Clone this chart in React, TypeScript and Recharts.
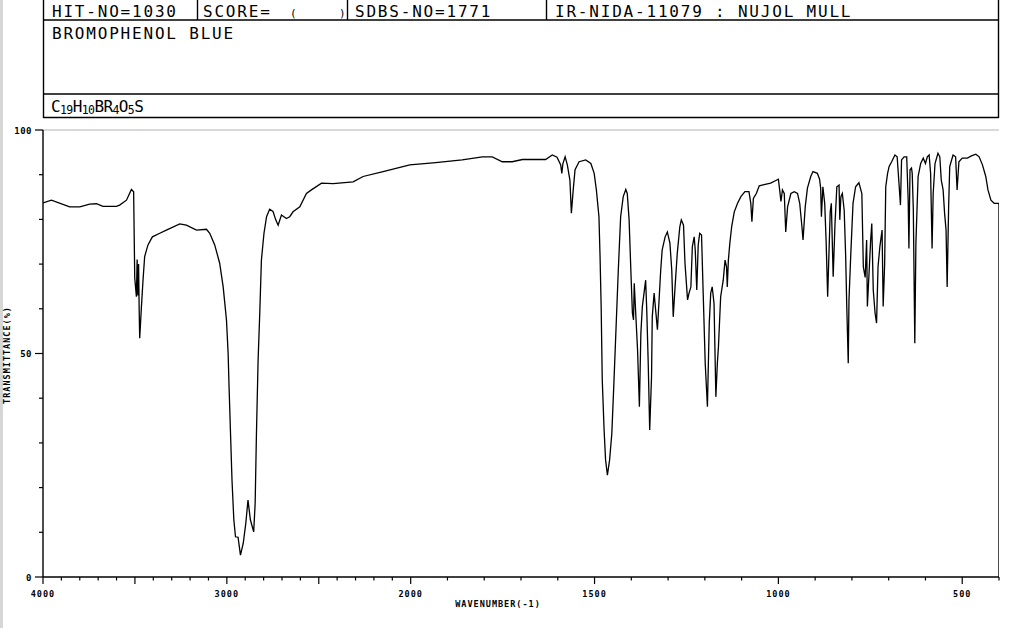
import React from 'react';
import { LineChart, Line, XAxis, YAxis, ReferenceLine } from 'recharts';

// ---------- data ----------
const wavenumbers: number[] = [
  4000, 3954, 3855, 3800, 3746, 3709, 3674, 3601, 3583, 3546, 3519, 3507, 3501, 3492, 3488, 3484, 3480, 3477, 3474,
  3465, 3456, 3447, 3429, 3405, 3365, 3329, 3256, 3220, 3165, 3111, 3093, 3066, 3039, 3020, 3002, 2993, 2988, 2980,
  2972, 2962, 2953, 2939, 2926, 2911, 2897, 2885, 2872, 2854, 2846, 2839, 2830, 2821, 2812, 2798, 2784, 2767, 2749,
  2734, 2721, 2703, 2676, 2658, 2640, 2603, 2567, 2540, 2485, 2422, 2313, 2259, 2150, 2005,
  1932, 1860, 1805, 1778, 1751, 1724, 1696, 1633, 1615, 1602, 1592, 1589, 1586, 1580, 1574, 1567, 1563, 1558, 1553,
  1542, 1524, 1510, 1501, 1495, 1488, 1485, 1482, 1479, 1474, 1470, 1465, 1459, 1453, 1447, 1441, 1435, 1429, 1422,
  1415, 1411, 1406, 1401, 1397, 1394, 1392, 1388, 1383, 1378, 1374, 1370, 1361, 1358, 1354, 1350, 1345, 1343, 1338,
  1333, 1329, 1325, 1320, 1316, 1308, 1302, 1295, 1290, 1286, 1281, 1275, 1268, 1264, 1258, 1254, 1247, 1243, 1238,
  1234, 1229, 1226, 1222, 1218, 1214, 1209, 1205, 1199, 1193, 1188, 1184, 1180, 1175, 1170, 1166, 1163, 1157, 1150,
  1145, 1141, 1139, 1136, 1132, 1127, 1120, 1111, 1102, 1091, 1080, 1075, 1072, 1068, 1060, 1052, 1039, 1021, 1007,
  1000, 996, 993, 989, 984, 980, 975, 966, 957, 948, 942, 936, 933, 927, 921, 912, 906, 894, 888, 885, 883, 879, 874,
  870, 866, 863, 859, 856, 854, 851, 846, 841, 835, 833, 830, 826, 821, 817, 814, 810, 808, 803, 797, 790, 781, 773,
  769, 764, 760, 758, 753, 749, 746, 742, 737, 733, 729, 724, 718, 715, 711, 708, 703, 699, 692, 683, 677, 672, 668,
  665, 658, 651, 647, 645, 642, 638, 636, 633, 629, 626, 620, 613, 606, 600, 595, 590, 586, 582, 579, 574, 566, 561,
  557, 552, 548, 544, 541, 537, 534, 525, 518, 514, 509, 500, 486, 475, 463, 454, 445, 436, 430, 422, 413, 404, 400,
];

const transmittance: number[] = [
  83.7, 84.3, 82.8, 82.8, 83.4, 83.5, 82.9, 82.9, 83.2, 84.3, 86.7, 86.2, 66.9, 62.7, 71.0, 63.0, 70.0, 60.0, 53.4,
  60.2, 66.4, 71.7, 74.3, 76.1, 76.9, 77.6, 79.0, 78.7, 77.6, 77.8, 76.9, 74.3, 70.2, 64.9, 57.5, 50.0, 42.6, 32.1,
  21.7, 12.8, 9.0, 8.9, 4.9, 7.5, 12.0, 17.2, 12.8, 10.1, 16.5, 32.1, 48.5, 59.0, 70.9, 76.9, 80.6, 82.3, 81.8,
  79.9, 78.7, 81.0, 80.2, 80.6, 81.7, 82.8, 85.8, 86.6, 88.1, 88.0, 88.4, 89.6, 90.7, 92.2,
  92.7, 93.3, 94.0, 94.0, 92.9, 92.9, 93.4, 93.4, 94.4, 93.9, 92.2, 90.3, 92.5, 94.0, 92.2, 88.8, 81.4, 86.6, 91.1,
  92.9, 93.3, 92.5, 90.3, 86.6, 80.6, 71.7, 60.5, 44.1, 32.9, 26.2, 22.8, 26.2, 32.1, 44.1, 56.8, 69.4, 80.6, 85.1,
  86.7, 85.8, 79.9, 68.0, 59.0, 57.5, 65.7, 59.0, 50.8, 38.1, 54.5, 60.5, 66.4, 59.7, 47.8, 32.9, 44.8, 58.2, 63.5,
  59.0, 55.3, 61.2, 68.7, 73.2, 76.1, 77.2, 74.7, 68.7, 58.2, 64.9, 72.4, 78.4, 79.9, 78.7, 70.2, 62.0, 63.5, 64.9,
  73.9, 76.1, 73.0, 64.2, 74.3, 76.9, 76.5, 64.9, 47.8, 38.1, 56.8, 63.5, 64.9, 61.2, 40.3, 47.8, 51.5, 62.7, 66.4,
  70.9, 69.4, 64.9, 70.9, 74.7, 78.4, 81.7, 83.6, 85.1, 86.2, 86.2, 83.6, 79.5, 84.7, 85.8, 87.5, 87.8, 88.1, 88.7,
  89.0, 86.2, 84.0, 86.6, 85.8, 77.2, 82.8, 85.8, 86.2, 85.8, 83.6, 78.4, 75.4, 82.8, 87.0, 89.6, 90.7, 90.3, 89.0, 87.0, 80.6, 87.3, 83.6,
  74.7, 62.7, 70.9, 81.7, 83.6, 76.9, 67.2, 79.1, 87.3, 87.7, 79.9, 85.1, 85.8, 82.0, 71.7, 60.5, 47.8, 62.0, 72.4, 83.6, 87.3, 88.2, 85.8,
  69.4, 67.0, 75.4, 60.5, 68.7, 75.4, 79.1, 64.2, 59.0, 56.8, 69.4, 73.9, 77.6, 60.5, 70.0, 87.3, 90.3, 91.8, 92.9, 94.4, 94.0, 88.1, 83.2,
  93.3, 94.0, 94.0, 84.3, 73.5, 91.1, 91.5, 90.3, 82.1, 52.3, 74.7, 89.6, 92.5, 93.7, 92.5, 94.0, 94.4, 90.3, 73.5, 85.8, 92.5, 94.8, 94.0,
  88.8, 86.6, 81.4, 77.6, 64.9, 82.8, 91.8, 94.4, 94.0, 86.6, 92.9, 93.7, 93.7, 94.2, 94.6, 94.0, 92.2, 89.6, 86.6, 84.3, 83.6, 83.6, 83.6,
];

const xTickWavenumbers: number[] = [
  4000, 3900, 3800, 3700, 3600, 3500, 3400, 3300, 3200, 3100, 3000, 2900, 2800, 2700, 2600, 2500, 2400, 2300, 2200,
  2100, 2000, 1900, 1800, 1700, 1600, 1500, 1400, 1300, 1200, 1100, 1000, 900, 800, 700, 600, 500, 400,
];
const xLabelWavenumbers: number[] = [4000, 3000, 2000, 1500, 1000, 500];
const xMajorWavenumbers: number[] = [4000, 3500, 3000, 2500, 2000, 1500, 1000, 500];
const yTicks: number[] = [0, 10, 20, 30, 40, 50, 60, 70, 80, 90, 100];
const yLabels: number[] = [0, 50, 100];

const headerRow1 = {
  hit: 'HIT-NO=1030',
  score: 'SCORE=',
  sdbs: 'SDBS-NO=1771',
  method: 'IR-NIDA-11079 : NUJOL MULL',
};
const compoundName = 'BROMOPHENOL BLUE';
const formulaParts: { t: string; sub: boolean }[] = [
  { t: 'C', sub: false }, { t: '19', sub: true }, { t: 'H', sub: false }, { t: '10', sub: true },
  { t: 'BR', sub: false }, { t: '4', sub: true }, { t: 'O', sub: false }, { t: '5', sub: true }, { t: 'S', sub: false },
];
const xTitle = 'WAVENUMBER(-1)';
const yTitle = 'TRANSMITTANCE(%)';

// ---------- scale: 4000-2000 at 1x, 2000-400 at 2x ----------
const toPos = (w: number) => (w >= 2000 ? 4000 - w : 2000 + 2 * (2000 - w));
const fromPos = (p: number) => (p <= 2000 ? 4000 - p : 2000 - (p - 2000) / 2);

const data = wavenumbers.map((w, i) => ({ pos: toPos(w), t: transmittance[i] }));
const lastW = wavenumbers[wavenumbers.length - 1];
const lastT = transmittance[transmittance.length - 1];
// closing stroke of the plotter pen: from the last point straight down to the baseline
const edgeData = [
  { pos: toPos(lastW), e: lastT },
  { pos: toPos(lastW), e: 0 },
];

const FONT = '"DejaVu Sans Mono", monospace';

const XTick = (props: any) => {
  const { x, y, payload } = props;
  const w = Math.round(fromPos(payload.value));
  const major = xMajorWavenumbers.includes(w);
  const label = xLabelWavenumbers.includes(w);
  return (
    <g>
      <line x1={x} y1={y} x2={x} y2={y + (major ? 7 : 3.5)} stroke="#000" strokeWidth={1.2} />
      {label && (
        <text x={x} y={y + 19.5} textAnchor="middle" fontFamily={FONT} fontSize={8.5} fontWeight="bold" letterSpacing={1} fill="#000">
          {w}
        </text>
      )}
    </g>
  );
};

const YTick = (props: any) => {
  const { x, y, payload } = props;
  const v = payload.value;
  const label = yLabels.includes(v);
  return (
    <g>
      <line x1={x} y1={y} x2={x - (label ? 8 : 4)} y2={y} stroke="#000" strokeWidth={1.2} />
      {label && (
        <text x={x - 11} y={y + 3.5} textAnchor="end" fontFamily={FONT} fontSize={9} fontWeight="bold" letterSpacing={0.5} fill="#000">
          {v}
        </text>
      )}
    </g>
  );
};

const Header = () => (
  <svg width={1019} height={628} style={{ position: 'absolute', left: 0, top: 0, pointerEvents: 'none' }}>
    <g stroke="#000" strokeWidth={1.4} fill="none">
      <line x1={43.5} y1={0} x2={43.5} y2={118} />
      <line x1={998.5} y1={0} x2={998.5} y2={118} />
      <line x1={43.5} y1={20} x2={998.5} y2={20} />
      <line x1={43.5} y1={94} x2={998.5} y2={94} />
      <line x1={43.5} y1={117.5} x2={998.5} y2={117.5} />
      <line x1={197.5} y1={0} x2={197.5} y2={20} />
      <line x1={347.5} y1={0} x2={347.5} y2={20} />
      <line x1={546.5} y1={0} x2={546.5} y2={20} />
    </g>
    <g fontFamily={FONT} fontSize={16} letterSpacing={1.8} fill="#000">
      <text x={52} y={16.5}>{headerRow1.hit}</text>
      <text x={203} y={16.5}>{headerRow1.score}</text>
      <text x={290} y={16.5} fontSize={11}>(</text>
      <text x={339} y={16.5} fontSize={11}>)</text>
      <text x={355} y={16.5}>{headerRow1.sdbs}</text>
      <text x={555} y={16.5}>{headerRow1.method}</text>
      <text x={52} y={39}>{compoundName}</text>
      <text x={51} y={111.5} letterSpacing={-0.6}>
        {formulaParts.map((p, i) => {
          const prevSub = i > 0 && formulaParts[i - 1].sub;
          const dy = p.sub ? 2 : prevSub ? -2 : 0;
          return (
            <tspan key={i} fontSize={p.sub ? 11.5 : 16} dy={dy}>
              {p.t}
            </tspan>
          );
        })}
      </text>
    </g>
    <text x={498} y={607} textAnchor="middle" fontFamily={FONT} fontSize={8.5} fontWeight="bold" letterSpacing={1} fill="#000">
      {xTitle}
    </text>
    <text
      x={10}
      y={355}
      transform="rotate(-90 10 355)"
      textAnchor="middle"
      fontFamily={FONT}
      fontSize={8.5}
      fontWeight="bold"
      letterSpacing={1}
      fill="#000"
    >
      {yTitle}
    </text>
  </svg>
);

export default function App() {
  return (
    <div style={{ position: 'absolute', left: 0, top: 0, width: 1019, height: 628, background: '#fff' }}>
      <div style={{ position: 'absolute', left: 0, top: 0, width: 3, height: 628, background: '#d6d6d6' }} />
      <div style={{ position: 'absolute', left: 0, top: 0 }}>
        <LineChart width={1019} height={628} data={data} margin={{ top: 130, right: 20, bottom: 0, left: 0 }}>
          <XAxis
            dataKey="pos"
            type="number"
            domain={[0, 5200]}
            ticks={xTickWavenumbers.map(toPos)}
            interval={0}
            height={51}
            tickSize={0}
            tickMargin={0}
            tickLine={false}
            axisLine={{ stroke: '#000', strokeWidth: 1.4 }}
            tick={XTick}
            allowDataOverflow
          />
          <YAxis
            type="number"
            domain={[0, 100]}
            ticks={yTicks}
            interval={0}
            width={43}
            tickSize={0}
            tickMargin={0}
            tickLine={false}
            axisLine={{ stroke: '#000', strokeWidth: 1.4 }}
            tick={YTick}
            allowDataOverflow
          />
          <ReferenceLine y={100} stroke="#b4b4b4" strokeWidth={1.2} ifOverflow="visible" />
          <Line
            data={edgeData}
            type="linear"
            dataKey="e"
            stroke="#000"
            strokeWidth={1.4}
            dot={false}
            isAnimationActive={false}
          />
          <Line
            type="linear"
            dataKey="t"
            stroke="#000"
            strokeWidth={1.3}
            dot={false}
            isAnimationActive={false}
          />
        </LineChart>
      </div>
      <Header />
    </div>
  );
}
